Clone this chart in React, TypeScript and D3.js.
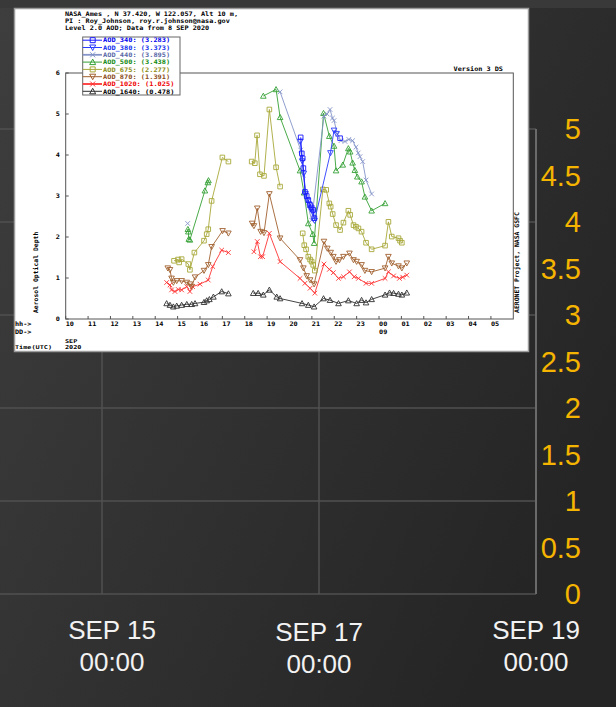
import React from "react";
import * as d3 from "d3";

const W = 616;
const H = 707;

// ---- outer chart (dark panel) ----
const outerValueTicks = [0, 0.5, 1, 1.5, 2, 2.5, 3, 3.5, 4, 4.5, 5];
const outerGridValues = [0, 1, 2, 3, 4, 5];
const outerDates = [
  new Date(Date.UTC(2020, 8, 15)),
  new Date(Date.UTC(2020, 8, 17)),
  new Date(Date.UTC(2020, 8, 19)),
];

// ---- embedded AERONET plot ----
const titleLines = [
  "NASA_Ames , N 37.420, W 122.057, Alt 10 m,",
  "PI : Roy_Johnson, roy.r.johnson@nasa.gov",
  "Level 2.0 AOD; Data from 8 SEP 2020",
];
const hourTicks = [10, 11, 12, 13, 14, 15, 16, 17, 18, 19, 20, 21, 22, 23, 24, 25, 26, 27, 28, 29];
const aodTicks = [0, 1, 2, 3, 4, 5, 6];

// hours since 8 SEP 2020 00:00 UTC, AOD
const aod340 = [
  [20.5, 4.43], [20.55, 4.04], [20.59, 3.92], [20.62, 3.68], [20.69, 3.1], [20.77, 3.0],
  [20.84, 2.9], [20.92, 2.78], [20.99, 2.72], [21.06, 2.66], [21.11, 2.46], [22.26, 4.41],
];
const aod380 = [
  [20.48, 4.33], [20.57, 3.85], [20.64, 3.55], [20.72, 3.05], [20.8, 2.9], [20.88, 2.8],
  [20.96, 2.68], [21.04, 2.6], [21.12, 2.4], [21.83, 4.05], [21.99, 4.6], [22.1, 4.52],
];
const aod440 = [
  [15.45, 2.33],
  [19.58, 5.54], [20.5, 4.12], [20.62, 3.51], [20.74, 3.05], [20.84, 2.74], [20.99, 2.41],
  [21.54, 4.95], [21.68, 5.0], [21.81, 5.11], [21.92, 4.9], [21.99, 4.84], [22.14, 4.51],
  [22.3, 4.35], [22.48, 4.33], [22.65, 4.38], [22.82, 4.35], [22.97, 4.19], [23.07, 4.05],
  [23.15, 3.96], [23.27, 3.84], [23.42, 3.39], [23.67, 3.05],
];
const aod500 = [
  [15.46, 2.19], [15.48, 2.13], [15.5, 1.95], [15.55, 1.93], [16.22, 3.13], [16.35, 3.33], [16.38, 3.38],
  [18.83, 5.44], [19.4, 5.6], [19.58, 4.92], [20.47, 3.62], [20.65, 3.08], [20.84, 2.33],
  [21.04, 2.07], [21.1, 1.85], [21.52, 5.02], [21.78, 4.46], [21.99, 4.22], [22.08, 3.62],
  [22.38, 3.76], [22.63, 4.16], [22.71, 4.08], [22.82, 3.81], [22.92, 3.63], [23.03, 3.47],
  [23.22, 3.35], [23.37, 2.98], [23.67, 2.64], [24.27, 2.82],
];
const aod675 = [
  [14.84, 1.42], [15.02, 1.45], [15.07, 1.38], [15.18, 1.46], [15.48, 1.34], [15.55, 1.2],
  [15.75, 1.62], [16.18, 1.91], [16.3, 2.07], [16.37, 2.19], [16.52, 2.88], [17.0, 3.94], [17.27, 3.84],
  [18.31, 3.84], [18.45, 3.8], [18.55, 4.48], [18.68, 3.53], [18.86, 3.49], [19.1, 5.11],
  [19.4, 3.7], [19.58, 3.23], [20.59, 2.09], [20.66, 1.8], [20.74, 1.7], [20.84, 1.52],
  [20.92, 1.45], [20.99, 1.4], [21.06, 1.32], [21.13, 1.18], [21.49, 3.16], [21.64, 3.15],
  [21.78, 2.82], [21.84, 2.74], [21.93, 2.56], [22.08, 2.29], [22.26, 2.17], [22.41, 2.35],
  [22.63, 2.64], [22.71, 2.54], [22.86, 2.29], [22.97, 2.25], [23.08, 2.21], [23.22, 2.13],
  [23.42, 1.86], [23.67, 1.7], [24.27, 1.79], [24.42, 2.37], [24.57, 2.01], [24.87, 1.97],
  [24.94, 1.91], [25.02, 1.86],
];
const aod870 = [
  [14.56, 1.24], [14.66, 1.2], [14.73, 0.99], [14.81, 0.89], [14.96, 0.93], [15.18, 0.93],
  [15.41, 0.89], [15.55, 0.85], [15.63, 0.79], [15.78, 1.02], [16.18, 1.18], [16.37, 1.32],
  [16.52, 1.76], [17.01, 2.15], [17.27, 2.09],
  [18.33, 2.33], [18.41, 2.27], [18.56, 2.7], [18.71, 2.13], [18.86, 2.1], [19.1, 3.05],
  [19.58, 1.97], [20.47, 1.44], [20.62, 1.24], [20.77, 1.05], [20.92, 0.95], [21.1, 0.85],
  [21.54, 1.89], [21.69, 1.72], [21.84, 1.62], [21.96, 1.52], [22.08, 1.4], [22.23, 1.44],
  [22.41, 1.52], [22.68, 1.6], [22.86, 1.44], [23.0, 1.4], [23.22, 1.32], [23.37, 1.18],
  [23.67, 1.15], [24.27, 1.24], [24.42, 1.52], [24.57, 1.36], [24.87, 1.29], [25.02, 1.24],
  [25.24, 1.36],
];
const aod1020 = [
  [14.51, 0.89], [14.66, 0.83], [14.73, 0.71], [14.88, 0.67], [15.03, 0.72], [15.18, 0.71],
  [15.41, 0.79], [15.55, 0.67], [15.67, 0.79], [16.0, 0.85], [16.37, 0.95], [16.57, 1.28],
  [16.97, 1.68], [17.27, 1.62],
  [18.41, 1.64], [18.56, 1.89], [18.7, 1.52], [18.8, 1.52], [19.1, 2.09], [19.58, 1.4],
  [20.47, 0.99], [20.69, 0.87], [20.92, 0.75], [21.13, 0.63], [21.54, 1.34], [21.78, 1.21],
  [21.96, 1.13], [22.19, 0.99], [22.41, 1.03], [22.68, 1.15], [22.89, 1.03], [23.08, 0.99],
  [23.42, 0.87], [23.67, 0.87], [24.27, 0.99], [24.42, 1.15], [24.65, 1.05], [24.91, 0.99],
  [25.06, 1.02], [25.24, 1.07],
];
const aod1640 = [
  [14.51, 0.38], [14.66, 0.34], [14.81, 0.3], [14.96, 0.32], [15.18, 0.34], [15.41, 0.36],
  [15.63, 0.36], [15.78, 0.38], [16.18, 0.41], [16.3, 0.45], [16.42, 0.48], [16.6, 0.54],
  [16.97, 0.67], [17.27, 0.62],
  [18.38, 0.63], [18.6, 0.63], [18.83, 0.59], [19.1, 0.71], [19.43, 0.54], [19.58, 0.5],
  [20.56, 0.38], [20.84, 0.34], [21.1, 0.3], [21.52, 0.5], [21.81, 0.46], [22.19, 0.38],
  [22.63, 0.45], [23.0, 0.38], [23.22, 0.46], [23.42, 0.4], [23.67, 0.48], [24.27, 0.59],
  [24.47, 0.64], [24.65, 0.63], [24.87, 0.61], [25.02, 0.59], [25.24, 0.64],
];

const seriesNames = ["AOD_340", "AOD_380", "AOD_440", "AOD_500", "AOD_675", "AOD_870", "AOD_1020", "AOD_1640"];
const seriesMeans = ["3.283", "3.373", "3.895", "3.438", "2.277", "1.391", "1.025", "0.478"];
const seriesData = [aod340, aod380, aod440, aod500, aod675, aod870, aod1020, aod1640];
const seriesMarkers = ["square", "down", "x", "up", "square", "down", "x", "up"];
const lineColors = ["#1a1aff", "#2a3cff", "#8494c8", "#34a034", "#a8a83a", "#a0602e", "#ff3434", "#303030"];
const textColors = ["#0000ee", "#1030ee", "#5868a8", "#108a10", "#8c8c14", "#8a4c18", "#ee0000", "#000000"];

function markerPath(kind: string, s: number) {
  const h = s / 2;
  if (kind === "square") return `M${-h},${-h}H${h}V${h}H${-h}Z`;
  if (kind === "up") return `M0,${-h - 0.5}L${h + 0.5},${h}L${-h - 0.5},${h}Z`;
  if (kind === "down") return `M0,${h + 0.5}L${h + 0.5},${-h}L${-h - 0.5},${-h}Z`;
  return `M${-h},${-h}L${h},${h}M${h},${-h}L${-h},${h}`;
}

// split a series where the hour gap is longer than an hour
function segments(data: number[][]) {
  const out: number[][][] = [];
  let cur: number[][] = [];
  data.forEach((d, i) => {
    if (i > 0 && d[0] - data[i - 1][0] > 1.0) {
      out.push(cur);
      cur = [];
    }
    cur.push(d);
  });
  if (cur.length) out.push(cur);
  return out;
}

// bitmap-like small text: compact glyphs stretched to the old fixed cell width
function Mono(props: { x?: number; y?: number; size?: number; fill?: string; anchor?: string; transform?: string; cw?: number; children: string }) {
  const { x, y, size = 6.2, fill = "#000", anchor, transform, cw = 4.12, children } = props;
  return (
    <text
      x={x}
      y={y}
      transform={transform}
      fontSize={size}
      fill={fill}
      textAnchor={anchor}
      fontFamily="'DejaVu Sans Mono', monospace"
      fontWeight={700}
      textLength={children.length * cw}
      lengthAdjust="spacingAndGlyphs"
    >
      {children}
    </text>
  );
}

function AeronetPlot() {
  const x = d3.scaleLinear().domain([10, 30]).range([65.7, 513.3]);
  const y = d3.scaleLinear().domain([0, 6]).range([319, 73]);
  const line = d3
    .line<number[]>()
    .x((d) => x(d[0]))
    .y((d) => y(d[1]));

  const legendX0 = 82.7;
  const legendX1 = 180;
  const legendY0 = 37;
  const rowH = 7.3;
  const order = d3.range(seriesNames.length).reverse();

  return (
    <g>
      <rect x={14.5} y={8.5} width={514} height={343} fill="#ffffff" stroke="#9c9c9c" strokeWidth={1.5} />
      {titleLines.map((t, i) => (
        <Mono key={t} x={65} y={15.6 + i * 7.4}>{t}</Mono>
      ))}
      <Mono x={503} y={71.3} anchor="end">Version 3 DS</Mono>

      {/* frame */}
      <rect x={x(10)} y={y(6)} width={x(30) - x(10)} height={y(0) - y(6)} fill="none" stroke="#555" strokeWidth={1} />

      {aodTicks.map((v) => (
        <g key={v}>
          <line x1={x(10)} x2={x(10) + 3} y1={y(v)} y2={y(v)} stroke="#555" />
          <Mono x={60} y={y(v) + 2.3} anchor="end">{String(v)}</Mono>
        </g>
      ))}
      {hourTicks.map((h) => (
        <g key={h}>
          <line x1={x(h)} x2={x(h)} y1={y(0)} y2={y(0) - 3} stroke="#555" />
          <Mono x={x(h)} y={y(0) + 6.6}>{d3.format("02d")(h % 24)}</Mono>
        </g>
      ))}
      <Mono x={x(24)} y={334}>09</Mono>
      <Mono x={15} y={325.6}>hh-&gt;</Mono>
      <Mono x={15} y={334}>DD-&gt;</Mono>
      <Mono x={65} y={342.9} size={5.3}>SEP</Mono>
      <Mono x={15} y={349.4} size={5.3}>Time(UTC)</Mono>
      <Mono x={65} y={349.4} size={5.3}>2020</Mono>
      <Mono transform="translate(37.5,313) rotate(-90)" size={6.3} cw={3.87}>Aerosol Optical Depth</Mono>
      <Mono transform="translate(519,313) rotate(-90)" size={6.3} cw={3.88}>AERONET Project, NASA GSFC</Mono>

      {/* series */}
      {order.map((i) => (
        <g key={seriesNames[i]}>
          {segments(seriesData[i]).map((seg, k) => (
            <path key={k} d={line(seg) || ""} fill="none" stroke={lineColors[i]} strokeWidth={0.9} />
          ))}
          {seriesData[i].map((d, k) => (
            <path
              key={k}
              transform={`translate(${x(d[0])},${y(d[1])})`}
              d={markerPath(seriesMarkers[i], 4.6)}
              fill="none"
              stroke={lineColors[i]}
              strokeWidth={0.9}
            />
          ))}
        </g>
      ))}

      {/* legend */}
      <rect x={legendX0} y={legendY0} width={legendX1 - legendX0} height={58} fill="#fff" stroke="#666" strokeWidth={1} />
      {seriesNames.map((n, i) => {
        const cy = legendY0 + 3.2 + i * rowH;
        return (
          <g key={n}>
            <line x1={legendX0} x2={102} y1={cy} y2={cy} stroke={lineColors[i]} strokeWidth={i === 2 || i === 6 ? 1.8 : 1} />
            <path transform={`translate(92.7,${cy})`} d={markerPath(seriesMarkers[i], 5)} fill="none" stroke={lineColors[i]} strokeWidth={1} />
            <Mono x={103} y={cy + 2.2} fill={textColors[i]} cw={4.2}>{`${n}: (${seriesMeans[i]})`}</Mono>
          </g>
        );
      })}
    </g>
  );
}

export default function App() {
  const x = d3.scaleUtc().domain([outerDates[0], outerDates[2]]).range([102, 536]);
  const y = d3.scaleLinear().domain([0, 5]).range([594, 129]);
  const fmtDay = d3.utcFormat("%b %d");
  const fmtTime = d3.utcFormat("%H:%M");
  const sans = "'Liberation Sans', Arial, sans-serif";

  return (
    <svg width={W} height={H} style={{ position: "absolute", left: 0, top: 0 }}>
      <defs>
        <linearGradient id="bg" x1="0" y1="0" x2="1" y2="0.6">
          <stop offset="0" stopColor="#3e3e3e" />
          <stop offset="1" stopColor="#252525" />
        </linearGradient>
      </defs>
      <rect width={W} height={H} fill="url(#bg)" />
      <rect width={W} height={8} fill="#393939" />

      {outerGridValues.map((v) => (
        <line key={v} x1={0} x2={x(outerDates[2])} y1={y(v)} y2={y(v)} stroke="#505050" strokeWidth={1.5} />
      ))}
      {outerDates.slice(0, 2).map((d) => (
        <line key={+d} x1={x(d)} x2={x(d)} y1={y(5)} y2={y(0)} stroke="#505050" strokeWidth={1.5} />
      ))}
      <line x1={x(outerDates[2])} x2={x(outerDates[2])} y1={y(5)} y2={y(0)} stroke="#6a6a6a" strokeWidth={2} />

      {outerValueTicks.map((v) => (
        <text key={v} x={581} y={y(v) + 10.3} fontSize={29} fill="#f4b400" textAnchor="end" fontFamily={sans}>
          {v}
        </text>
      ))}

      {outerDates.map((d, i) => (
        <g key={+d} transform={`translate(${x(d) + (i === 0 ? 10 : 0)},${i === 1 ? 2 : 0})`}>
          <text y={639} fontSize={26} textAnchor="middle" fill="#f2f2f2" fontFamily={sans}>
            {fmtDay(d).toUpperCase()}
          </text>
          <text y={671} fontSize={26} textAnchor="middle" fill="#f2f2f2" fontFamily={sans}>
            {fmtTime(d)}
          </text>
        </g>
      ))}

      <AeronetPlot />
    </svg>
  );
}
